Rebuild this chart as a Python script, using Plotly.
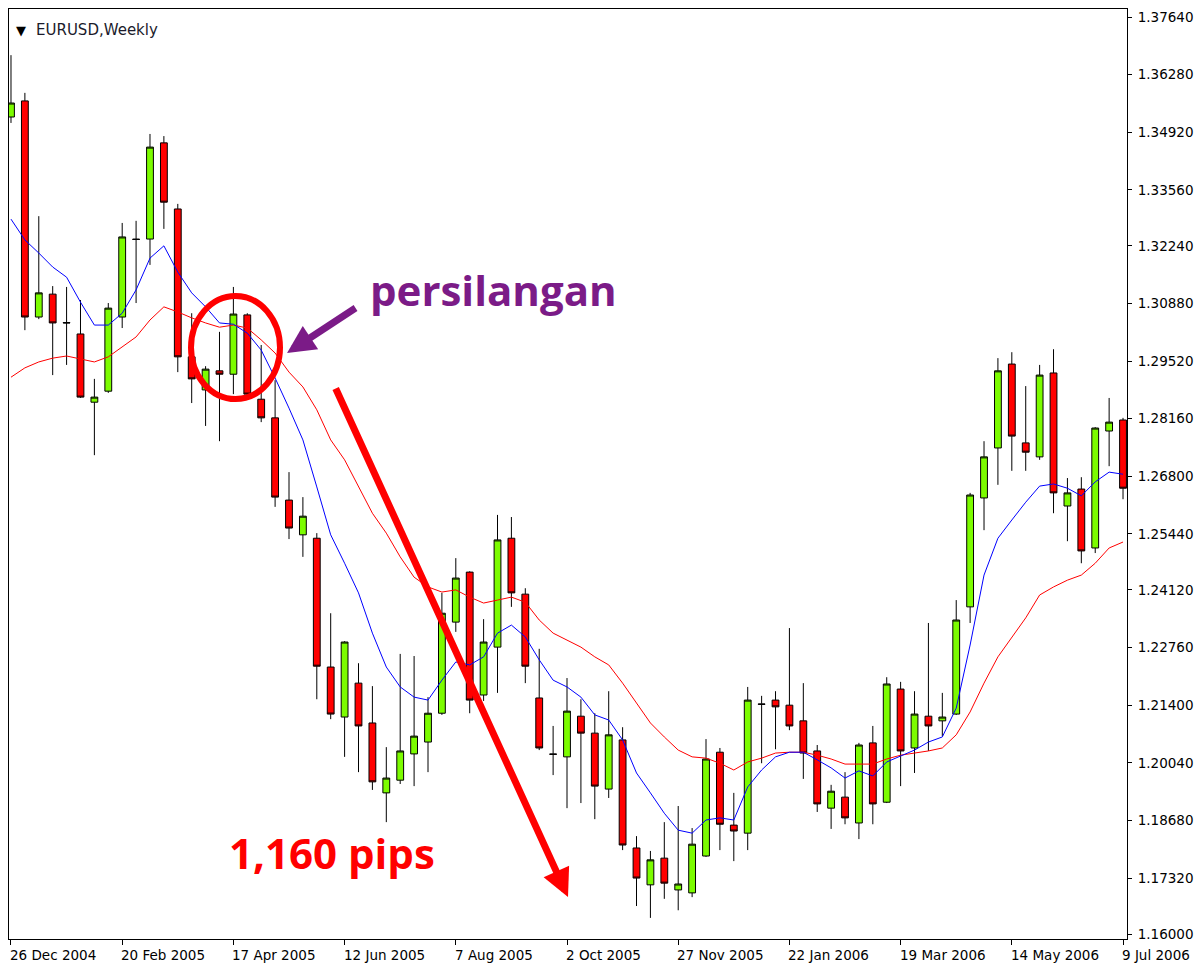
import plotly.graph_objects as go
import pandas as pd

# ---- data (EURUSD weekly) ----
open_ = [1.3528, 1.3566, 1.3056, 1.3110, 1.3043, 1.3016, 1.2855, 1.2881, 1.3056, 1.3240,
         1.3240, 1.3467, 1.3311, 1.2962, 1.2884, 1.2929, 1.2921, 1.3061, 1.2862, 1.2818,
         1.2624, 1.2542, 1.2534, 1.2230, 1.2112, 1.2192, 1.2098, 1.1933, 1.1963, 1.2025,
         1.2053, 1.2121, 1.2336, 1.2454, 1.2164, 1.2277, 1.2534, 1.2402, 1.2157, 1.2025,
         1.2018, 1.2114, 1.2074, 1.1942, 1.2058, 1.1803, 1.1716, 1.1779, 1.1704, 1.1697,
         1.1784, 1.2029, 1.1857, 1.1838, 1.2143, 1.2152, 1.2140, 1.2103, 1.2032, 1.1897,
         1.1923, 1.1862, 1.2051, 1.1911, 1.2178, 1.2039, 1.2114, 1.2103, 1.2119, 1.2372,
         1.2629, 1.2747, 1.2945, 1.2759, 1.2726, 1.2924, 1.2610, 1.2650, 1.2511, 1.2787,
         1.2813]
high = [1.3674, 1.3585, 1.3294, 1.3129, 1.3127, 1.3096, 1.2910, 1.3089, 1.3278, 1.3283,
        1.3488, 1.3483, 1.3323, 1.3065, 1.2940, 1.3021, 1.3127, 1.3065, 1.2990, 1.2907,
        1.2690, 1.2631, 1.2546, 1.2357, 1.2291, 1.2239, 1.2185, 1.2041, 1.2261, 1.2256,
        1.2159, 1.2405, 1.2487, 1.2456, 1.2343, 1.2589, 1.2584, 1.2416, 1.2273, 1.2091,
        1.2204, 1.2154, 1.2121, 1.2173, 1.2088, 1.1831, 1.1796, 1.1864, 1.1902, 1.1850,
        1.2060, 1.2039, 1.1933, 1.2183, 1.2162, 1.2173, 1.2322, 1.2192, 1.2046, 1.1952,
        1.1982, 1.2051, 1.2091, 1.2206, 1.2195, 1.2173, 1.2334, 1.2169, 1.2388, 1.2641,
        1.2763, 1.2959, 1.2973, 1.2893, 1.2943, 1.2980, 1.2676, 1.2678, 1.2796, 1.2865,
        1.2818]
low = [1.3514, 1.3025, 1.3051, 1.2919, 1.2943, 1.2865, 1.2730, 1.2877, 1.3030, 1.3089,
       1.3179, 1.3264, 1.2926, 1.2853, 1.2799, 1.2763, 1.2874, 1.2872, 1.2808, 1.2608,
       1.2532, 1.2490, 1.2154, 1.2107, 1.2018, 1.1982, 1.1940, 1.1864, 1.1954, 1.1949,
       1.1982, 1.2117, 1.2313, 1.2121, 1.2150, 1.2169, 1.2372, 1.2192, 1.2034, 1.1975,
       1.1897, 1.1909, 1.1871, 1.1921, 1.1798, 1.1666, 1.1638, 1.1683, 1.1656, 1.1687,
       1.1782, 1.1798, 1.1772, 1.1798, 1.2003, 1.2036, 1.2081, 1.1966, 1.1888, 1.1848,
       1.1859, 1.1824, 1.1859, 1.1909, 1.1949, 1.1980, 1.2032, 1.2067, 1.2117, 1.2334,
       1.2553, 1.2660, 1.2693, 1.2693, 1.2719, 1.2593, 1.2527, 1.2475, 1.2499, 1.2704,
       1.2626]
close = [1.3561, 1.3056, 1.3113, 1.3042, 1.3042, 1.2867, 1.2867, 1.3077, 1.3245, 1.3239,
         1.3457, 1.3327, 1.2962, 1.2910, 1.2933, 1.2921, 1.3063, 1.2874, 1.2818, 1.2631,
         1.2558, 1.2586, 1.2232, 1.2119, 1.2289, 1.2091, 1.1959, 1.1968, 1.2032, 1.2067,
         1.2121, 1.2357, 1.2440, 1.2152, 1.2289, 1.2530, 1.2405, 1.2232, 1.2039, 1.2024,
         1.2126, 1.2074, 1.1949, 1.2070, 1.1810, 1.1732, 1.1775, 1.1720, 1.1718, 1.1812,
         1.2013, 1.1859, 1.1843, 1.2152, 1.2142, 1.2136, 1.2091, 1.2027, 1.1907, 1.1937,
         1.1874, 1.2046, 1.1907, 1.2190, 1.2032, 1.2119, 1.2091, 1.2112, 1.2341, 1.2636,
         1.2726, 1.2929, 1.2775, 1.2737, 1.2919, 1.2641, 1.2641, 1.2504, 1.2794, 1.2808,
         1.2652]
ma_fast = [1.3287, 1.3238, 1.3207, 1.3174, 1.3150, 1.3091, 1.3037, 1.3037, 1.3065, 1.3120,
           1.3195, 1.3224, 1.3162, 1.3113, 1.3080, 1.3042, 1.3039, 1.3018, 1.2978, 1.2912,
           1.2841, 1.2766, 1.2655, 1.2542, 1.2475, 1.2405, 1.2310, 1.2230, 1.2183, 1.2159,
           1.2152, 1.2199, 1.2242, 1.2235, 1.2254, 1.2310, 1.2329, 1.2301, 1.2247, 1.2199,
           1.2183, 1.2159, 1.2117, 1.2105, 1.2058, 1.1980, 1.1933, 1.1885, 1.1845, 1.1838,
           1.1869, 1.1874, 1.1869, 1.1947, 1.1987, 1.2018, 1.2029, 1.2029, 1.2011, 1.1992,
           1.1968, 1.1985, 1.1973, 1.2006, 1.2020, 1.2034, 1.2053, 1.2065, 1.2133, 1.2282,
           1.2447, 1.2534, 1.2577, 1.2619, 1.2657, 1.2662, 1.2652, 1.2634, 1.2667, 1.2690,
           1.2685]
ma_slow = [1.2914, 1.2936, 1.2950, 1.2959, 1.2964, 1.2957, 1.2950, 1.2962, 1.2985, 1.3009,
           1.3049, 1.3080, 1.3068, 1.3054, 1.3042, 1.3032, 1.3037, 1.3030, 1.3002, 1.2971,
           1.2926, 1.2891, 1.2837, 1.2766, 1.2719, 1.2655, 1.2593, 1.2546, 1.2490, 1.2442,
           1.2419, 1.2407, 1.2412, 1.2395, 1.2381, 1.2388, 1.2395, 1.2383, 1.2341, 1.2310,
           1.2294, 1.2277, 1.2254, 1.2235, 1.2192, 1.2145, 1.2098, 1.2065, 1.2034, 1.2018,
           1.2015, 1.2003, 1.1987, 1.2006, 1.2015, 1.2027, 1.2029, 1.2029, 1.2022, 1.2013,
           1.2001, 1.2001, 1.2001, 1.2013, 1.2022, 1.2027, 1.2032, 1.2039, 1.2070, 1.2124,
           1.2192, 1.2254, 1.2301, 1.2346, 1.2400, 1.2419, 1.2435, 1.2447, 1.2475, 1.2511,
           1.2525]

first_week = "2004-12-26"
x_tick_labels = ["26 Dec 2004", "20 Feb 2005", "17 Apr 2005", "12 Jun 2005", "7 Aug 2005",
                 "2 Oct 2005", "27 Nov 2005", "22 Jan 2006", "19 Mar 2006", "14 May 2006",
                 "9 Jul 2006"]
y_tick_vals = [1.3764, 1.3628, 1.3492, 1.3356, 1.3224, 1.3088, 1.2952, 1.2816, 1.2680,
               1.2544, 1.2412, 1.2276, 1.2140, 1.2004, 1.1868, 1.1732, 1.1600]

dates = pd.date_range(first_week, periods=len(close), freq="7D")
tick_dates = [dates[i] for i in range(0, len(dates), 8)]
y_tick_text = [f"{v:.5f}" for v in y_tick_vals]

fig = go.Figure()
fig.add_trace(go.Candlestick(
    x=dates, open=open_, high=high, low=low, close=close,
    increasing=dict(fillcolor="#7CFC00", line=dict(color="black", width=1)),
    decreasing=dict(fillcolor="#FF0000", line=dict(color="black", width=1)),
    whiskerwidth=0, showlegend=False, hoverinfo="skip"))
fig.add_trace(go.Scatter(x=dates, y=ma_slow, mode="lines",
                         line=dict(color="#FF0000", width=1), showlegend=False, hoverinfo="skip"))
fig.add_trace(go.Scatter(x=dates, y=ma_fast, mode="lines",
                         line=dict(color="#0000FF", width=1), showlegend=False, hoverinfo="skip"))

fig.update_layout(
    width=1204, height=965,
    margin=dict(l=9, r=77, t=9, b=26, autoexpand=False),
    paper_bgcolor="white", plot_bgcolor="white",
    showlegend=False,
    xaxis=dict(type="date", range=["2004-12-25", "2006-07-11"], automargin=False,
               rangeslider=dict(visible=False), showgrid=False, zeroline=False,
               showline=True, mirror=True, linecolor="black", linewidth=1,
               ticks="outside", ticklen=5, tickcolor="black",
               tickvals=tick_dates, showticklabels=False),
    yaxis=dict(side="right", range=[1.15882, 1.37829], automargin=False,
               showgrid=False, zeroline=False,
               showline=True, mirror=True, linecolor="black", linewidth=1,
               ticks="outside", ticklen=4, tickcolor="black",
               tickvals=y_tick_vals, ticktext=y_tick_text,
               tickfont=dict(family="DejaVu Sans", size=13.5, color="black"),
               ticklabelstandoff=3),
)

# date labels, left-aligned at their tick like the original terminal
for d, lab in zip(tick_dates, x_tick_labels):
    fig.add_annotation(xref="x", yref="paper", x=d, y=-0.0172, text=lab,
                       xanchor="left", yanchor="middle", xshift=-3, showarrow=False,
                       font=dict(family="DejaVu Sans", size=13.5, color="black"))

PURPLE = "#7B1B87"
fig.add_shape(type="circle", xref="paper", yref="paper",
              x0=0.1628, x1=0.2424, y0=0.5806, y1=0.6914,
              line=dict(color="#FF0000", width=6))

fig.add_annotation(xref="paper", yref="paper", x=0.0107, y=0.9774, text="▼",
                   xanchor="center", yanchor="middle", showarrow=False,
                   font=dict(family="DejaVu Sans", size=13, color="black"))
fig.add_annotation(xref="paper", yref="paper", x=0.0225, y=0.9769, xanchor="left",
                   yanchor="middle", text="EURUSD,Weekly", showarrow=False,
                   font=dict(family="DejaVu Sans", size=15, color="#1b1b2b"))
fig.add_annotation(xref="paper", yref="paper", x=0.4338, y=0.6989, text="<b>persilangan</b>",
                   xanchor="center", yanchor="middle", showarrow=False,
                   font=dict(family="Open Sans", size=42, color=PURPLE))
fig.add_annotation(xref="paper", yref="paper", x=0.2889, y=0.0935, text="<b>1,160 pips</b>",
                   xanchor="center", yanchor="middle", showarrow=False,
                   font=dict(family="Open Sans", size=42, color="#FF0000"))
fig.add_annotation(xref="paper", yref="paper", x=0.2487, y=0.6301, text="",
                   showarrow=True, axref="pixel", ayref="pixel", ax=70, ay=-46,
                   arrowhead=2, arrowsize=0.8, arrowwidth=7, arrowcolor=PURPLE, standoff=0)
fig.add_annotation(xref="paper", yref="paper", x=0.5, y=0.04516, text="",
                   showarrow=True, axref="pixel", ayref="pixel", ax=-233, ay=-510,
                   arrowhead=2, arrowsize=0.8, arrowwidth=7, arrowcolor="#FF0000", standoff=0)

fig.write_html("out.html", config={"displayModeBar": False},
               post_script="document.body.style.margin='0';")
